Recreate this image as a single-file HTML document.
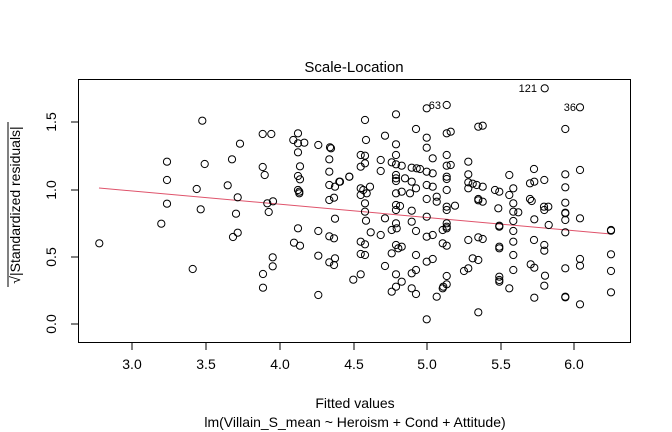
<!DOCTYPE html>
<html><head><meta charset="utf-8"><style>body{margin:0;background:#fff}svg{display:block;font-family:"Liberation Sans",Arial,sans-serif}</style></head>
<body>
<svg id="s" width="672" height="432" viewBox="0 0 672 432" xmlns="http://www.w3.org/2000/svg">
<rect width="672" height="432" fill="#fff"/>
<rect x="78.5" y="79.5" width="552" height="263" fill="none" stroke="#000" stroke-width="1"/>
<g stroke="#000" stroke-width="1">
<line x1="132" y1="343" x2="132" y2="350"/><line x1="206" y1="343" x2="206" y2="350"/><line x1="280" y1="343" x2="280" y2="350"/><line x1="354" y1="343" x2="354" y2="350"/><line x1="427" y1="343" x2="427" y2="350"/><line x1="501" y1="343" x2="501" y2="350"/><line x1="574" y1="343" x2="574" y2="350"/>
<line x1="71" y1="324" x2="78" y2="324"/><line x1="71" y1="257" x2="78" y2="257"/><line x1="71" y1="190" x2="78" y2="190"/><line x1="71" y1="122" x2="78" y2="122"/>
</g>
<g font-size="14" text-anchor="middle" fill="#000">
<text x="132" y="369">3.0</text><text x="206" y="369">3.5</text><text x="280" y="369">4.0</text><text x="354" y="369">4.5</text><text x="427" y="369">5.0</text><text x="501" y="369">5.5</text><text x="574" y="369">6.0</text>
<text transform="translate(56,324) rotate(-90)">0.0</text><text transform="translate(56,257) rotate(-90)">0.5</text><text transform="translate(56,190) rotate(-90)">1.0</text><text transform="translate(56,122) rotate(-90)">1.5</text>
<text x="354" y="72" font-size="15">Scale-Location</text>
<text x="355" y="408">Fitted values</text>
<text x="355" y="427">lm(Villain_S_mean ~ Heroism + Cond + Attitude)</text>
<text transform="translate(20,205) rotate(-90)">√|Standardized residuals|</text>
<text x="537" y="92" font-size="11" text-anchor="end">121</text>
<text x="441" y="109" font-size="11" text-anchor="end">63</text>
<text x="576" y="111" font-size="11" text-anchor="end">36</text>
</g>
<line x1="8" y1="287" x2="8" y2="122" stroke="#000" stroke-width="1"/>
<line x1="99" y1="188" x2="611" y2="234" stroke="#DF536B" stroke-width="1"/>
<g id="pts" fill="none" stroke="#000" stroke-width="1"></g>
</svg>
<script>
var A=[[118,505],[427,137],[321,260],[321,315],[321,386],[304,446],[398,582],[434,267],[410,342],[422,403],[516,253],[540,206],[503,331],[533,367],[528,416],[533,473],[519,486],[608,177],[634,177],[608,276],[614,300],[622,385],[639,379],[626,411],[638,547],[638,574],[609,597],[609,638],[714,175],[714,205],[714,232],[720,274],[714,303],[720,313],[714,345],[718,350],[718,355],[714,460],[720,512],[700,195],[733,203],[702,503],[775,210],[775,468],[775,542],[775,660],[810,217],[813,220],[808,253],[808,290],[808,330],[825,335],[808,375],[822,368],[825,431],[808,484],[822,490],[825,550],[808,562],[822,570],[838,320],[868,305]];
var B=[[614,40],[320,90],[260,100],[720,97],[0,320],[28,305],
[75,135],[78,195],[62,240],[75,242],[75,265],[62,275],[62,340],[70,345],[80,355],[62,360],[75,385],[75,410],[78,437],[62,500],[75,508],[62,537],[75,540],[62,598],[90,335],[92,472],[40,614],
[135,182],[122,255],[122,288],[135,430],[122,480],[135,573],
[168,118],[168,208],[168,240],[155,262],[168,268],[185,272],[168,300],[168,310],[168,318],[168,355],[185,350],[168,390],[180,393],[168,405],[168,445],[170,460],[155,465],[168,510],[185,515],[175,520],[155,535],[168,598],[185,620],[168,635],[155,650],
[228,162],[215,278],[230,280],[240,282],[195,310],[215,320],[210,355],[228,340],[215,407],[215,440],[228,468],[228,540],[215,595],[228,585],[215,640],[228,657],
[260,188],[260,218],[278,250],[260,290],[278,295],[260,330],[278,335],[260,372],[260,425],[278,480],[260,485],[278,552],[260,560],[260,733],[290,365],[290,380],[290,665],
[320,175],[332,170],[320,240],[320,272],[332,270],[320,305],[320,312],[320,345],[320,395],[320,405],[320,445],[320,455],[320,460],[308,465],[308,505],[320,512],[320,603],[320,628],[310,635],[308,640],[345,392],
[415,155],[428,152],[385,260],[385,298],[385,322],[398,326],[410,330],[428,335],[385,340],[415,372],[428,380],[415,376],[475,400],[385,495],[415,487],[428,492],[398,550],[415,555],[385,580],[372,588],[415,712],
[465,345],[478,350],[478,452],[478,455],[478,515],[478,520],[478,605],[478,615],[478,620],[508,640],[520,340],[508,360],[520,385],[520,410],[520,438],[520,468],[520,500],[520,540],[520,585],[535,412],[508,300],
[582,282],[570,325],[583,320],[570,372],[575,378],[583,433],[582,495],[613,315],[612,395],[625,395],[613,405],[626,450],[613,510],[613,527],[572,568],[583,578],[615,602],[613,632],[583,668],
[676,162],[676,298],[676,337],[676,383],[676,413],[676,415],[676,435],[676,472],[676,580],[676,665],[676,667],[720,285],[720,430],[720,552],[720,572],[720,688],
[813,465],[813,467],[813,538],[813,588],[813,652]];
var g=document.getElementById('pts'),h='';
A.forEach(function(p){h+='<circle cx="'+(60+p[0]/3).toFixed(1)+'" cy="'+(75+p[1]/3).toFixed(1)+'" r="3.6"/>';});
B.forEach(function(p){h+='<circle cx="'+(340+p[0]/3).toFixed(1)+'" cy="'+(75+p[1]/3).toFixed(1)+'" r="3.6"/>';});
g.innerHTML=h;
</script>
</body></html>
